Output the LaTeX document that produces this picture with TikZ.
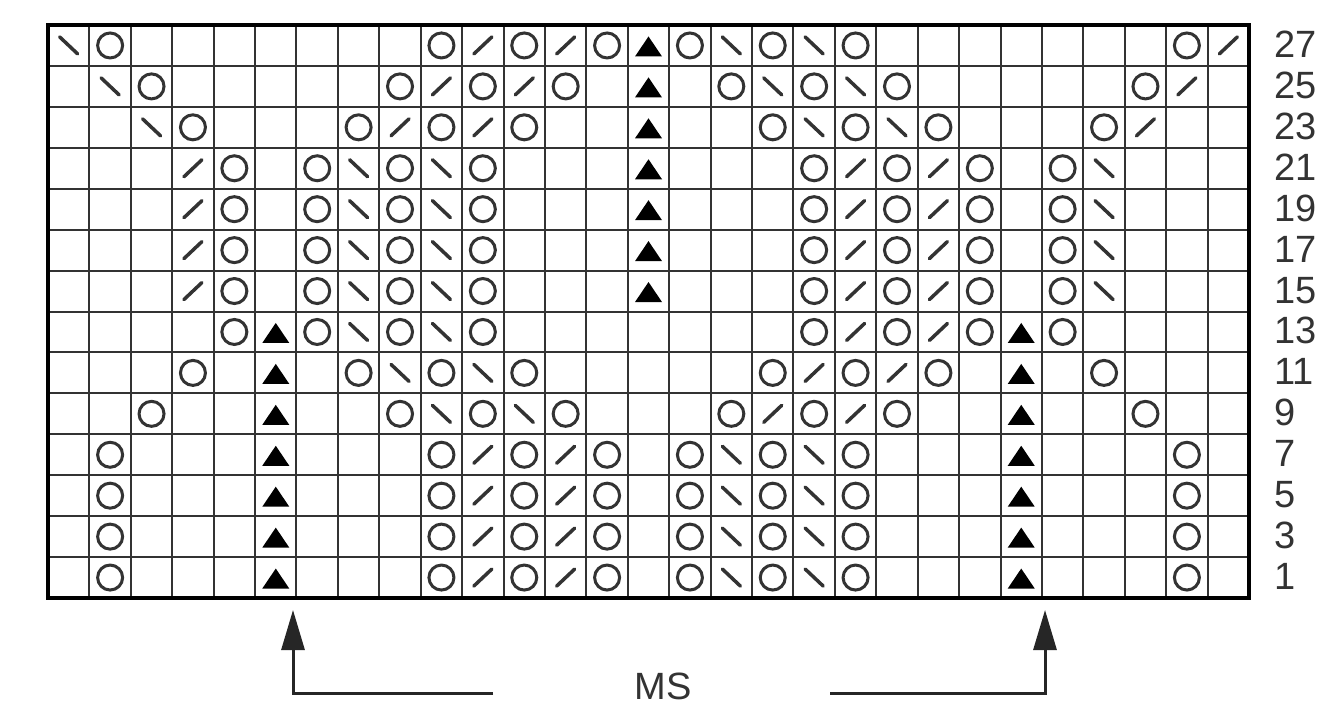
\documentclass[tikz,border=0pt]{standalone}
\usepackage{fontspec}
\setmainfont{Liberation Sans}
\usetikzlibrary{arrows.meta}
\definecolor{ink}{HTML}{333333}
\begin{document}
\begin{tikzpicture}[x=1pt,y=-1pt,
  gridline/.style={draw=ink,line width=2pt},
  frame/.style={draw=black,line width=4pt},
  yo/.style={draw=ink,line width=3pt},
  dec/.style={draw=ink,line width=3.5pt,line cap=round},
  cdd/.style={fill=black},
  lbl/.style={font=\fontsize{38}{40}\selectfont,text=ink,inner sep=0pt},
  msarrow/.style={draw=black!85,line width=3pt,-{Triangle[length=40pt,width=23pt]}}
]
\useasboundingbox (0,0) rectangle (1321,707);
\fill[white] (0,0) rectangle (1321,707);
\def\L{48}\def\R{1249}\def\T{25}\def\B{598}
\def\cw{41.4138}\def\rh{40.9286}
% grid
\foreach \i in {1,...,28} \draw[gridline] ({\L+\i*\cw},\T) -- ({\L+\i*\cw},\B);
\foreach \j in {1,...,13} \draw[gridline] (\L,{\T+\j*\rh}) -- (\R,{\T+\j*\rh});
\draw[frame] (\L,\T) rectangle (\R,\B);
% yarn overs
\foreach \r/\cs in {0/{2,10,12,14,16,18,20,28},1/{3,9,11,13,17,19,21,27},2/{4,8,10,12,18,20,22,26},
  3/{5,7,9,11,19,21,23,25},4/{5,7,9,11,19,21,23,25},5/{5,7,9,11,19,21,23,25},6/{5,7,9,11,19,21,23,25},
  7/{5,7,9,11,19,21,23,25},8/{4,8,10,12,18,20,22,26},9/{3,9,11,13,17,19,21,27},
  10/{2,10,12,14,16,18,20,28},11/{2,10,12,14,16,18,20,28},12/{2,10,12,14,16,18,20,28},13/{2,10,12,14,16,18,20,28}}
  \foreach \c in \cs
    \draw[yo] ({\L+(\c-0.5)*\cw},{\T+(\r+0.5)*\rh}) circle[radius=12.5pt];
% right-leaning decreases /
\foreach \r/\cs in {0/{11,13,29},1/{10,12,28},2/{9,11,27},3/{4,20,22},4/{4,20,22},5/{4,20,22},6/{4,20,22},
  7/{20,22},8/{19,21},9/{18,20},10/{11,13},11/{11,13},12/{11,13},13/{11,13}}
  \foreach \c in \cs
    \draw[dec] ({\L+(\c-0.5)*\cw-9},{\T+(\r+0.5)*\rh+8.5}) -- ({\L+(\c-0.5)*\cw+9},{\T+(\r+0.5)*\rh-8.5});
% left-leaning decreases \
\foreach \r/\cs in {0/{1,17,19},1/{2,18,20},2/{3,19,21},3/{8,10,26},4/{8,10,26},5/{8,10,26},6/{8,10,26},
  7/{8,10},8/{9,11},9/{10,12},10/{17,19},11/{17,19},12/{17,19},13/{17,19}}
  \foreach \c in \cs
    \draw[dec] ({\L+(\c-0.5)*\cw-9},{\T+(\r+0.5)*\rh-8.5}) -- ({\L+(\c-0.5)*\cw+9},{\T+(\r+0.5)*\rh+8.5});
% double decreases
\foreach \r/\cs in {0/{15},1/{15},2/{15},3/{15},4/{15},5/{15},6/{15},
  7/{6,24},8/{6,24},9/{6,24},10/{6,24},11/{6,24},12/{6,24},13/{6,24}}
  \foreach \c in \cs
    \fill[cdd] ({\L+(\c-0.5)*\cw-13.5},{\T+(\r+0.5)*\rh+11}) -- ({\L+(\c-0.5)*\cw+13.5},{\T+(\r+0.5)*\rh+11})
      -- ({\L+(\c-0.5)*\cw},{\T+(\r+0.5)*\rh-9}) -- cycle;
% row numbers
\foreach \r/\t in {0/27,1/25,2/23,3/21,4/19,5/17,6/15,7/13,8/11,9/9,10/7,11/5,12/3,13/1}
  \node[lbl,anchor=base west] (row\t) at (1274,{\T+(\r+0.5)*\rh+12}) {\t};
% MS marker
\node[lbl,anchor=base] (ms) at (663,699) {MS};
\coordinate (ltip) at (293,610);
\coordinate (lcorner) at (293,693);
\coordinate (lend) at (493,693);
\coordinate (rtip) at (1045,610);
\coordinate (rcorner) at (1045,693);
\coordinate (rend) at (830,693);
\draw[msarrow] (lend) -- (lcorner) -- (ltip);
\draw[msarrow] (rend) -- (rcorner) -- (rtip);
\end{tikzpicture}
\end{document}
